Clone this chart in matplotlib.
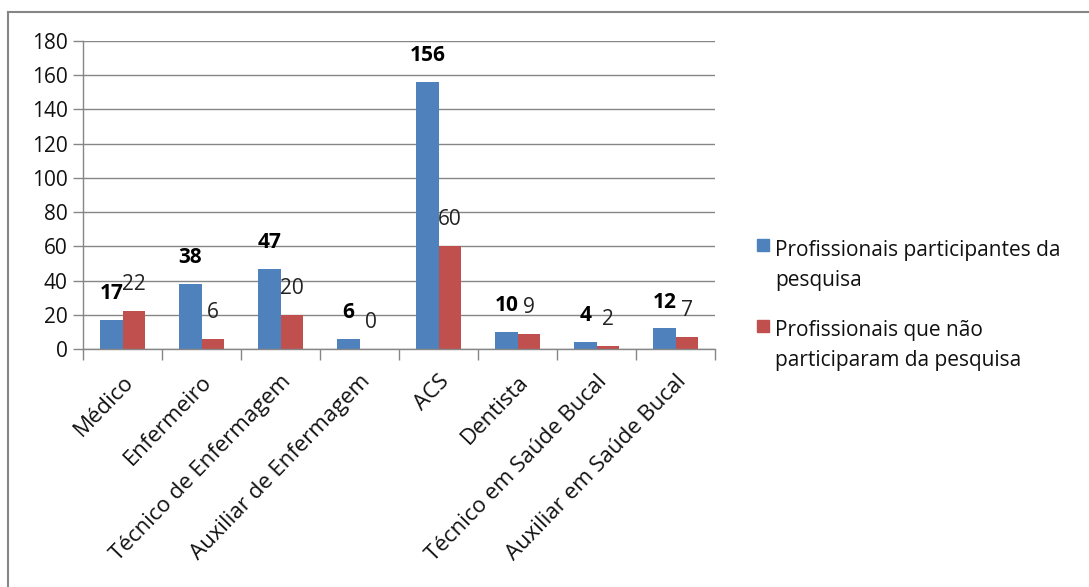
import matplotlib.pyplot as plt
from matplotlib.lines import Line2D
from matplotlib.patches import Rectangle
import numpy as np

# Dados
categorias = ['Médico', 'Enfermeiro', 'Técnico de Enfermagem', 'Auxiliar de Enfermagem',
              'ACS', 'Dentista', 'Técnico em Saúde Bucal', 'Auxiliar em Saúde Bucal']
participantes = [17, 38, 47, 6, 156, 10, 4, 12]
nao_participantes = [22, 6, 20, 0, 60, 9, 2, 7]
serie_labels = ['Profissionais participantes da\npesquisa',
                'Profissionais que não\nparticiparam da pesquisa']

plt.rcParams['font.family'] = ['Open Sans', 'DejaVu Sans']
azul = '#4F81BD'
vermelho = '#C0504D'
cinza = '#868686'
fs = 15
W, H = 1089, 587

fig = plt.figure(figsize=(W / 100, H / 100), dpi=100)
ax = fig.add_axes([83 / W, 1 - 349 / H, 632 / W, 308 / H])

x = np.arange(len(categorias))
w = 0.285
b1 = ax.bar(x - w / 2, participantes, w, color=azul)
b2 = ax.bar(x + w / 2, nao_participantes, w, color=vermelho)

# rótulos de dados
for rect, v in zip(b1, participantes):
    ax.annotate(str(v), (rect.get_x() + rect.get_width() / 2, v), xytext=(0, 19),
                textcoords='offset points', ha='center', va='center',
                fontsize=fs, fontweight='bold', color='black')
for rect, v in zip(b2, nao_participantes):
    ax.annotate(str(v), (rect.get_x() + rect.get_width() / 2, v), xytext=(0, 19),
                textcoords='offset points', ha='center', va='center',
                fontsize=fs, color='#222222')

ax.set_xlim(-0.5, len(categorias) - 0.5)
ax.set_ylim(0, 180)
ax.set_yticks(range(0, 181, 20))
ax.yaxis.grid(True, color=cinza, linewidth=1)
ax.set_axisbelow(True)

ax.set_xticks(x)
ax.set_xticklabels(categorias, rotation=46, ha='right', rotation_mode='anchor',
                   fontsize=16, color='#111111')
ax.set_xticks(np.arange(-0.5, len(categorias)), minor=True)
ax.tick_params(axis='x', which='major', length=0, pad=16)
ax.tick_params(axis='x', which='minor', length=8, color=cinza, width=1)
ax.tick_params(axis='y', length=7, color=cinza, width=1, labelsize=fs, pad=4,
               labelcolor='#111111')

for s in ['top', 'right']:
    ax.spines[s].set_visible(False)
for s in ['left', 'bottom']:
    ax.spines[s].set_color(cinza)
    ax.spines[s].set_linewidth(1)

# legenda: marcador alinhado com a primeira linha do texto
# (va='baseline' usa a linha de base da última linha)
for cor, rotulo, y_mark, y_base in [(azul, serie_labels[0], 239, 286),
                                     (vermelho, serie_labels[1], 320, 366)]:
    fig.add_artist(Rectangle((757 / W, 1 - (y_mark + 12) / H), 12 / W, 12 / H,
                             transform=fig.transFigure, color=cor))
    fig.text(775 / W, 1 - y_base / H, rotulo, fontsize=fs, color='#111111',
             va='baseline', ha='left', linespacing=1.55)

# moldura do gráfico
fig.add_artist(Line2D([8 / W, 8 / W], [0, 1 - 12 / H], transform=fig.transFigure,
                      color=cinza, linewidth=1.5))
fig.add_artist(Line2D([8 / W, 1], [1 - 12 / H, 1 - 12 / H], transform=fig.transFigure,
                      color=cinza, linewidth=1.5))

fig.savefig('out.png', dpi=100, facecolor='white')
